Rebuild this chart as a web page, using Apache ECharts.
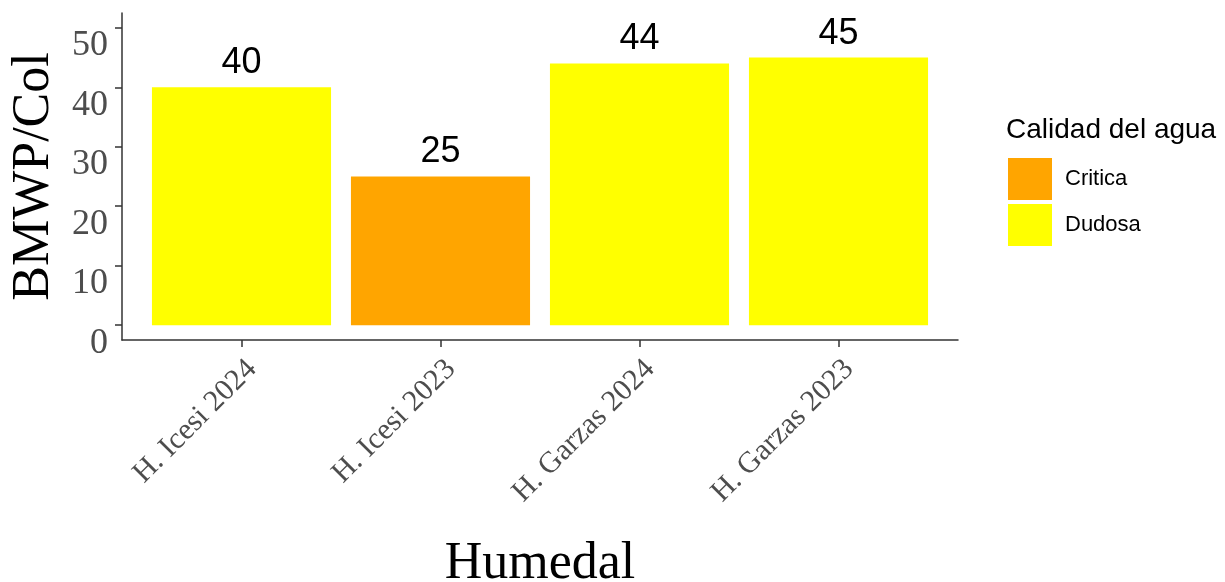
<!DOCTYPE html>
<html>
<head>
<meta charset="utf-8">
<script src="https://cdn.jsdelivr.net/npm/echarts@6/dist/echarts.min.js"></script>
<style>
html,body{margin:0;padding:0;background:#fff;}
#c{width:1225px;height:582px;}
</style>
</head>
<body>
<div id="c"></div>
<script>
const categories = ['H. Icesi 2024', 'H. Icesi 2023', 'H. Garzas 2024', 'H. Garzas 2023'];
const values = [40, 25, 44, 45];
const quality = ['Dudosa', 'Critica', 'Dudosa', 'Dudosa'];
const qualityLevels = ['Critica', 'Dudosa'];
const qualityColors = ['#FFA500', '#FFFF00'];
const yTicks = [0, 10, 20, 30, 40, 50];

const serif = '"Liberation Serif", "Times New Roman", serif';
const sans = '"Liberation Sans", Arial, sans-serif';

const series = qualityLevels.map((lvl, i) => ({
  name: lvl,
  type: 'bar',
  stack: 'q',
  xAxisIndex: 1,
  yAxisIndex: 1,
  barWidth: '90%',
  itemStyle: { color: qualityColors[i] },
  label: {
    show: true, position: 'top', distance: 6,
    fontFamily: sans, fontSize: 36, color: '#000'
  },
  data: values.map((v, j) => quality[j] === lvl ? v : '-')
}));

const chart = echarts.init(document.getElementById('c'));
chart.setOption({
  animation: false,
  backgroundColor: '#fff',
  title: [{
    text: 'Calidad del agua', left: 1001, top: 111,
    textStyle: { fontFamily: sans, fontSize: 28, fontWeight: 'normal', color: '#000' }
  }],
  legend: {
    orient: 'vertical', left: 1003, top: 153,
    itemWidth: 44, itemHeight: 42, itemGap: 4, icon: 'rect',
    data: qualityLevels,
    textStyle: { fontFamily: sans, fontSize: 22, color: '#000', padding: [0, 0, 0, 8] }
  },
  grid: [
    { left: 122, right: 267, top: 13, bottom: 242, outerBoundsMode: 'none', containLabel: false },
    { left: 142, right: 287, top: 13, bottom: 242, outerBoundsMode: 'none', containLabel: false }
  ],
  xAxis: [
    {
      type: 'value', gridIndex: 0, min: 0, max: 1,
      axisLine: { show: true, onZero: false, lineStyle: { color: '#333', width: 1.5 } },
      axisTick: { show: false }, axisLabel: { show: false }, splitLine: { show: false },
      name: 'Humedal', nameLocation: 'middle', nameGap: 198,
      nameTextStyle: { fontFamily: serif, fontSize: 52, color: '#000' }
    },
    {
      type: 'category', gridIndex: 1, data: categories,
      axisLine: { show: false, onZero: false },
      axisTick: { show: true, alignWithLabel: true, length: 7, lineStyle: { color: '#333', width: 1.5 } },
      axisLabel: { rotate: 45, margin: 14, verticalAlign: 'top', fontFamily: serif, fontSize: 30, color: '#4d4d4d' }
    }
  ],
  yAxis: [
    {
      type: 'value', gridIndex: 0, min: -2.5, max: 52.5,
      axisLine: { show: true, onZero: false, lineStyle: { color: '#333', width: 1.5 } },
      axisTick: { show: true, length: 7, customValues: yTicks, lineStyle: { color: '#333', width: 1.5 } },
      axisLabel: { customValues: yTicks, margin: 14, verticalAlign: 'top', fontFamily: serif, fontSize: 36, color: '#4d4d4d' },
      splitLine: { show: false },
      name: 'BMWP/Col', nameLocation: 'middle', nameGap: 62,
      nameTextStyle: { fontFamily: serif, fontSize: 52, color: '#000' }
    },
    {
      type: 'value', gridIndex: 1, min: -2.5, max: 52.5, show: false, splitLine: { show: false }
    }
  ],
  series: series
});
</script>
</body>
</html>
